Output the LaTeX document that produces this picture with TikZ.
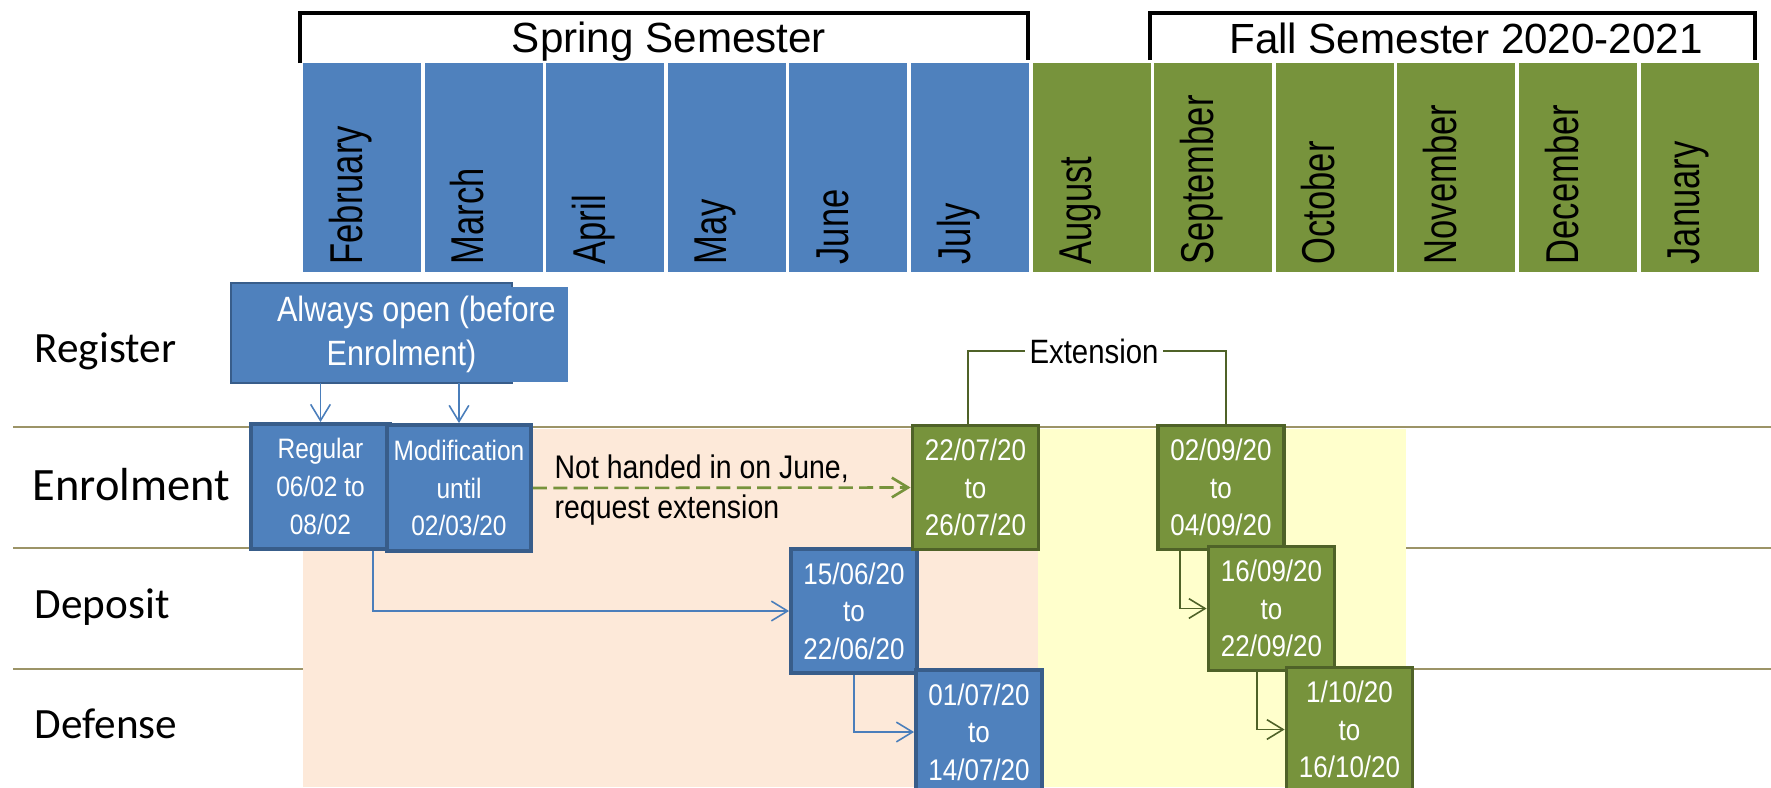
\documentclass[tikz,border=0pt]{standalone}
\usepackage{fontspec}
\setmainfont{Liberation Sans}
\newfontfamily\rowfont{Carlito}
\newfontfamily\narrowfont[FakeStretch=0.87]{Liberation Sans}
\newfontfamily\monthfont[FakeStretch=0.75]{Liberation Sans}
\usetikzlibrary{arrows.meta}

\definecolor{springblue}{HTML}{4F81BD}
\definecolor{springdark}{HTML}{385D8A}
\definecolor{springarrow}{HTML}{4A7EBB}
\definecolor{fallgreen}{HTML}{77933C}
\definecolor{falldark}{HTML}{4F6228}
\definecolor{springbg}{HTML}{FDE9D9}
\definecolor{fallbg}{HTML}{FFFFCC}
\definecolor{rowkhaki}{HTML}{9C9467}

\begin{document}
\begin{tikzpicture}[x=0.1mm, y=-0.1mm, arrows={-Straight Barb[length=4.6pt,width=5.6pt]},
	month/.style={fill=#1, minimum width=11.8mm, minimum height=20.9mm, inner sep=0},
	monthname/.style={rotate=90, anchor=base west, inner sep=0, font=\monthfont\fontsize{13.1}{15}\selectfont},
	semester/.style={anchor=base, inner sep=0, font=\fontsize{12}{14}\selectfont},
	phase/.style={anchor=base west, inner sep=0, font=\rowfont\fontsize{12.3}{14}\selectfont},
	datebox/.style={draw=#1, line width=1.1pt, text=white, align=center, inner sep=0, minimum width=12.6mm, minimum height=12.4mm, font=\narrowfont\fontsize{8.5}{10.7}\selectfont},
	springbox/.style={datebox=springdark, fill=springblue},
	fallbox/.style={datebox=falldark, fill=fallgreen},
	note/.style={align=left, inner sep=0, font=\narrowfont\fontsize{9.3}{11.4}\selectfont},
	rowline/.style={draw=rowkhaki, line width=0.6pt}]
	\useasboundingbox (0,0) rectangle (1771,787);

	\fill[springbg] (303,429) rectangle (1038,787);
	\fill[fallbg] (1038,429) rectangle (1406,787);
	\draw[rowline, -] (13,427) -- (1771,427);
	\draw[rowline, -] (13,548) -- (303,548) (1406,548) -- (1771,548);
	\draw[rowline, -] (13,669) -- (303,669) (1406,669) -- (1771,669);

	\foreach \m/\c [count=\i from 0] in {February/springblue, March/springblue, April/springblue, May/springblue, June/springblue, July/springblue, August/fallgreen, September/fallgreen, October/fallgreen, November/fallgreen, December/fallgreen, January/fallgreen} {
		\node[month=\c] (m\i) at ({362+121.6*\i},167.5) {};
		\node[monthname] (t\i) at ({362+121.6*\i},265) {\m};
	}

	\draw[line width=1.2pt, -] (300,63) |- (1028,13) -- (1028,60);
	\draw[line width=1.2pt, -] (1150,60) |- (1755,13) -- (1755,60);
	\node[semester] (spring) at (669,52) {Spring Semester};
	\node[semester] (fall) at (1466,53) {Fall Semester 2020-2021};

	\node[phase] (register) at (34,362) {Register};
	\node[phase, font=\rowfont\fontsize{13.2}{15}\selectfont] (enrolment) at (32,500) {Enrolment};
	\node[phase] (deposit) at (34,618) {Deposit};
	\node[phase] (defense) at (34,738) {Defense};

	\draw[draw=springdark, fill=springblue, line width=0.6pt] (231,283) rectangle (512,383);
	\node[fill=springblue, text=white, align=center, inner sep=0, minimum width=33.3mm, minimum height=9.5mm, font=\narrowfont\fontsize{10}{12.5}\selectfont] (open) at (401.5,334.5) {\hspace{8.5pt}Always open (before\\Enrolment)};

	\node[springbox, minimum width=13.9mm, minimum height=12.5mm, font=\narrowfont\fontsize{8}{10.7}\selectfont] (regular) at (320.5,486.5) {Regular\\06/02 to\\08/02};
	\node[springbox, minimum width=14.4mm, minimum height=12.6mm, font=\narrowfont\fontsize{8}{10.7}\selectfont] (modification) at (459,488) {Modification\\until\\02/03/20};
	\node[springbox] (deposit1) at (854,611) {15/06/20\\to\\22/06/20};
	\node[springbox] (defense1) at (979,732) {01/07/20\\to\\14/07/20};
	\node[fallbox] (ext1) at (975.5,487.5) {22/07/20\\to\\26/07/20};
	\node[fallbox] (ext2) at (1221,487.5) {02/09/20\\to\\04/09/20};
	\node[fallbox] (deposit2) at (1271.5,608.5) {16/09/20\\to\\22/09/20};
	\node[fallbox] (defense2) at (1349.5,729.5) {1/10/20\\to\\16/10/20};

	\draw[springarrow, line width=0.45pt] (open.south -| regular.north) -- (regular.north);
	\draw[springarrow, line width=0.45pt] (open.south -| modification.north) -- (modification.north);
	\draw[springarrow, line width=0.45pt] ([xshift=5.25mm]regular.south) |- (deposit1.west);
	\draw[springarrow, line width=0.45pt] (deposit1.south) |- (defense1.west);
	\draw[falldark, line width=0.45pt] ([xshift=-4.1mm]ext2.south) |- (deposit2.west);
	\draw[falldark, line width=0.45pt] ([xshift=-1.45mm]deposit2.south) |- (defense2.west);

	\draw[fallgreen, line width=0.75pt, dash pattern=on 4pt off 1.8pt] (modification.east) -- (ext1.west);
	\node[note, anchor=west] (late) at (554,490) {Not handed in on June,\\request extension};

	\node[note, inner xsep=1.2pt, font=\narrowfont\fontsize{9.6}{11}\selectfont] (extension) at (1094,351) {Extension};
	\draw[falldark, line width=0.45pt, -] ([xshift=-0.75mm]ext1.north) |- (extension.west);
	\draw[falldark, line width=0.45pt, -] (extension.east) -| ([xshift=0.5mm]ext2.north);
\end{tikzpicture}
\end{document}
